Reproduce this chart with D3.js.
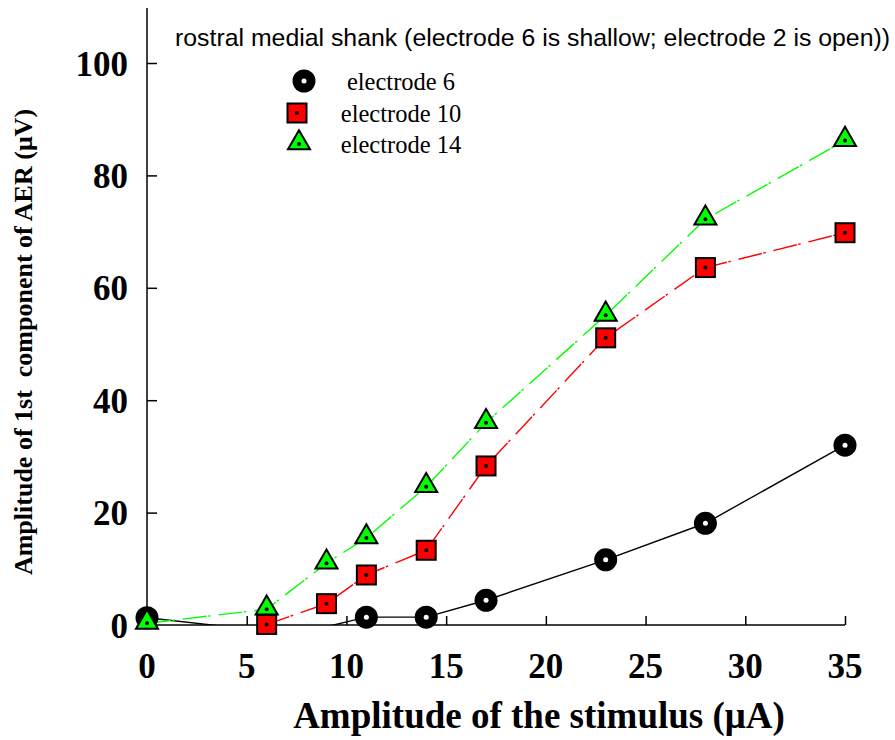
<!DOCTYPE html>
<html>
<head>
<meta charset="utf-8">
<script src="https://cdn.jsdelivr.net/npm/d3@7"></script>
<style>
body { margin: 0; background: #fff; }
</style>
</head>
<body>
<div id="chart"></div>
<script>
var canvasWidth = 895;
var canvasHeight = 740;

/*Data*/
var stimulus = [0, 6, 9, 11, 14, 17, 23, 28, 35];
var electrode6 = [1.3, -1.1, -0.3, 1.4, 1.4, 4.4, 11.6, 18.1, 32.0];
var electrode10 = [null, 0.1, 3.8, 8.9, 13.3, 28.3, 51.1, 63.6, 69.8];
var electrode14 = [0.3, 2.8, 11.0, 15.5, 24.6, 36.0, 55.1, 72.2, 86.2];
var seriesNames = ["electrode 6", "electrode 10", "electrode 14"];
var xTicks = [0, 5, 10, 15, 20, 25, 30, 35];
var yTicks = [0, 20, 40, 60, 80, 100];

var plotLeft = 147, plotRight = 845, plotTop = 8, plotBottom = 625;

var svg = d3.select("#chart").append("svg")
    .attr("width", canvasWidth)
    .attr("height", canvasHeight);

var xScale = d3.scaleLinear().domain([0, 35]).range([plotLeft, plotRight]);
var yScale = d3.scaleLinear().domain([0, 100]).range([plotBottom, 63]);

/*clip lines at the x axis*/
svg.append("clipPath").attr("id", "plotclip")
    .append("rect")
    .attr("x", plotLeft).attr("y", 0)
    .attr("width", plotRight - plotLeft + 20).attr("height", plotBottom);

var serif = "'Liberation Serif', 'Times New Roman', serif";

/*X axis*/
var xAxis = svg.append("g")
    .attr("transform", "translate(0," + plotBottom + ")")
    .call(d3.axisTop(xScale).tickValues(xTicks).tickSize(9).tickFormat(""));
xAxis.select(".domain").attr("d", "M" + plotLeft + ",0H" + plotRight).attr("stroke-width", 1.5);
xAxis.selectAll("line").attr("stroke-width", 1.5);

svg.append("g").selectAll("text")
    .data(xTicks)
    .join("text")
    .attr("x", function(d){ return xScale(d); })
    .attr("y", 678)
    .attr("text-anchor", "middle")
    .attr("font-family", serif)
    .attr("font-weight", "bold")
    .attr("font-size", 35)
    .text(function(d){ return d; });

/*Y axis*/
var yAxis = svg.append("g")
    .attr("transform", "translate(" + plotLeft + ",0)")
    .call(d3.axisRight(yScale).tickValues(yTicks).tickSize(10).tickFormat(""));
yAxis.select(".domain").attr("d", "M0," + plotTop + "V" + plotBottom).attr("stroke-width", 1.5);
yAxis.selectAll("line").attr("stroke-width", 1.5);
yAxis.selectAll(".tick").filter(function(d){ return d === 0; }).remove();

svg.append("g").selectAll("text")
    .data(yTicks)
    .join("text")
    .attr("x", 128)
    .attr("y", function(d){ return yScale(d) + 12.5; })
    .attr("text-anchor", "end")
    .attr("font-family", serif)
    .attr("font-weight", "bold")
    .attr("font-size", 35)
    .text(function(d){ return d; });

/*Axis titles*/
svg.append("text")
    .attr("x", 539)
    .attr("y", 728)
    .attr("text-anchor", "middle")
    .attr("font-family", serif)
    .attr("font-weight", "bold")
    .attr("font-size", 37)
    .text("Amplitude of the stimulus (\u03BCA)");

svg.append("text")
    .attr("transform", "translate(32,342) rotate(-90)")
    .attr("text-anchor", "middle")
    .attr("font-family", serif)
    .attr("font-weight", "bold")
    .attr("font-size", 26)
    .style("white-space", "pre")
    .text("Amplitude of 1st  component of AER (\u03BCV)");

/*Title*/
svg.append("text")
    .attr("x", 175)
    .attr("y", 46)
    .attr("font-family", "'Liberation Sans', Arial, sans-serif")
    .attr("font-size", 24.6)
    .attr("textLength", 715)
    .attr("lengthAdjust", "spacingAndGlyphs")
    .text("rostral medial shank (electrode 6 is shallow; electrode 2 is open))");

/*Series*/
var series = [
    {name: seriesNames[0], values: electrode6, color: "#000000", dash: null, shape: "circle"},
    {name: seriesNames[1], values: electrode10, color: "#ff0000", dash: "24,1.5,2.5,8", shape: "square"},
    {name: seriesNames[2], values: electrode14, color: "#00ff00", dash: "24,1.5,2.5,8", shape: "triangle"}
];

function points(s) {
    return stimulus.map(function(x, i){ return {x: x, y: s.values[i]}; })
        .filter(function(p){ return p.y !== null; });
}

var line = d3.line()
    .x(function(d){ return xScale(d.x); })
    .y(function(d){ return yScale(d.y); });

var lineG = svg.append("g").attr("clip-path", "url(#plotclip)");
lineG.selectAll("path")
    .data(series)
    .join("path")
    .attr("fill", "none")
    .attr("stroke", function(d){ return d.color; })
    .attr("stroke-width", 1.4)
    .attr("stroke-dasharray", function(d){ return d.dash; })
    .attr("d", function(d){ return line(points(d)); });

function drawMarker(g, shape) {
    if (shape === "circle") {
        g.append("circle").attr("r", 11.5).attr("fill", "#000");
        g.append("circle").attr("r", 2.5).attr("fill", "#fff");
    } else if (shape === "square") {
        g.append("rect").attr("x", -9.5).attr("y", -9.5).attr("width", 19).attr("height", 19)
            .attr("fill", "#ff0000").attr("stroke", "#000").attr("stroke-width", 2);
        g.append("circle").attr("r", 2).attr("fill", "#000");
    } else {
        g.append("path").attr("d", d3.symbol().type(d3.symbolTriangle).size(210)())
            .attr("transform", "translate(0,-1)")
            .attr("fill", "#00ff00").attr("stroke", "#000").attr("stroke-width", 2);
        g.append("circle").attr("r", 2).attr("fill", "#000");
    }
}

/*markers: circles lowest, triangles on top*/
series.forEach(function(s){
    svg.append("g").selectAll("g")
        .data(points(s).filter(function(p){ return p.y >= 0; }))
        .join("g")
        .attr("transform", function(d){ return "translate(" + xScale(d.x) + "," + yScale(d.y) + ")"; })
        .each(function(){ drawMarker(d3.select(this), s.shape); });
});

/*Legend*/
var legend = svg.append("g").attr("class", "legend");
var legendMarkX = [304, 297, 299];
var legendMarkY = [81, 113, 144];
series.forEach(function(s, i){
    var m = legend.append("g").attr("transform", "translate(" + legendMarkX[i] + "," + legendMarkY[i] + ")");
    drawMarker(m, s.shape);
    legend.append("text")
        .attr("x", 401)
        .attr("y", 90 + i * 31.5)
        .attr("text-anchor", "middle")
        .attr("font-family", serif)
        .attr("font-size", 24.5)
        .text(s.name);
});
</script>
</body>
</html>
